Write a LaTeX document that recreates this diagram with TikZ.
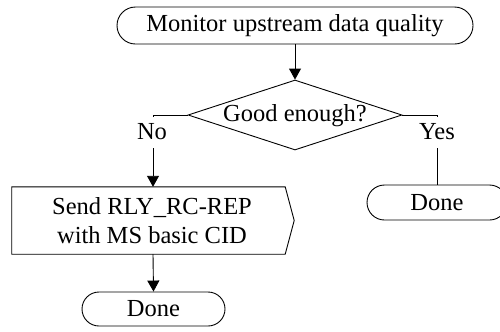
\documentclass[tikz,border=0pt]{standalone}
\usepackage{fontspec}
\setmainfont{Liberation Serif}
\usetikzlibrary{shapes.misc,shapes.geometric,arrows.meta}
\begin{document}
\begin{tikzpicture}[x=1bp,y=-1bp,
  txt/.style={font=\fontsize{24.5bp}{29bp}\selectfont},
  term/.style={draw, rounded rectangle, inner sep=0pt, line width=0.9bp, txt},
  decbox/.style={draw, diamond, inner sep=0pt, line width=0.9bp},
  procbox/.style={inner sep=0pt},
  conn/.style={line width=0.9bp},
  arr/.style={conn, -{Triangle[width=12bp,length=11bp]}},
  lbl/.style={txt, fill=white, inner sep=3bp, text height=19bp, text depth=6bp, anchor=base}
]
\clip (0,0) rectangle (500,331);
\fill[white] (0,0) rectangle (500,331);

\node[term, minimum width=356bp, minimum height=37bp] (mon) at (295,25.5) {Monitor upstream data quality};

\node[decbox, minimum width=214bp, minimum height=70bp] (dec) at (295,115) {};
\node[txt] (dectxt) at (295,115.5) {Good enough?};

\node[procbox, minimum width=282bp, minimum height=67bp] (send) at (153,220.5) {};
\draw[conn] (send.north west) -- ([xshift=-9bp]send.north east) -- (send.east)
  -- ([xshift=-9bp]send.south east) -- (send.south west) -- cycle;
\node[txt, align=center] (sendtxt) at (152,221) {Send RLY\_RC-REP\\with MS basic CID};

\node[term, minimum width=143bp, minimum height=34bp] (done1) at (153.5,309) {Done};
\node[term, minimum width=140bp, minimum height=35bp] (done2) at (437,202.5) {Done};

\draw[arr] (mon.south) -- (dec.north);
\draw[arr] (dec.west) -| (send.north);
\draw[conn] (dec.east) -| (done2.north);
\draw[arr] (send.south) -- (done1.north);

\node[lbl] (no) at (152,139) {No};
\node[lbl] (yes) at (437,139) {Yes};
\end{tikzpicture}
\end{document}
